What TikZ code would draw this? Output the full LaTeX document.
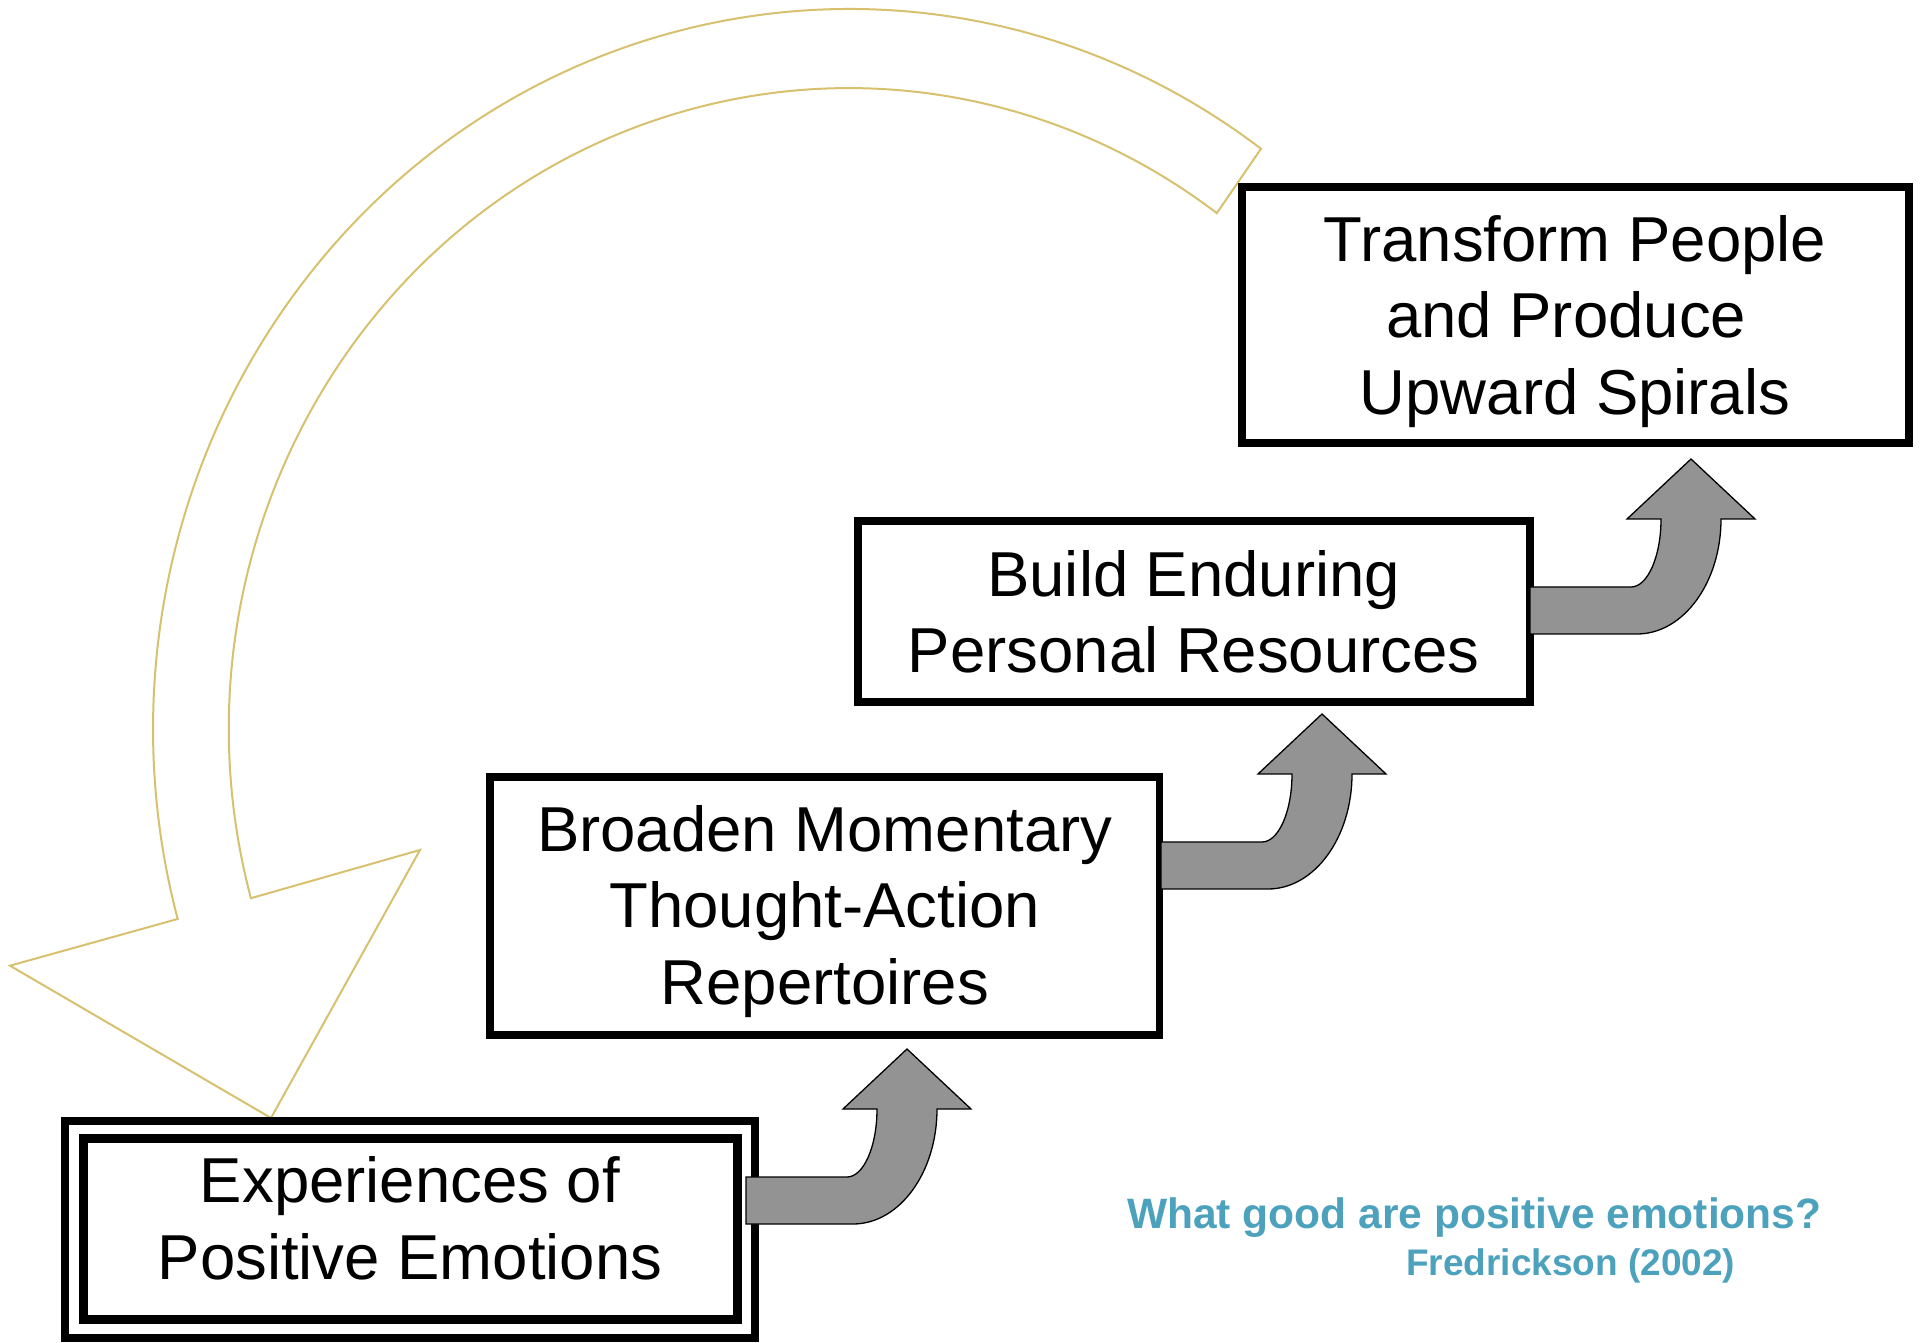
\documentclass[tikz,border=0pt]{standalone}
\usepackage{fontspec}
\setmainfont{Liberation Sans}
\definecolor{spiralgold}{RGB}{215,192,110}
\definecolor{captionteal}{RGB}{76,161,189}
\definecolor{arrowgray}{RGB}{147,147,147}
\tikzset{
  box/.style={draw=black, fill=white, line width=8pt, inner sep=0pt, rectangle},
  boxtext/.style={align=center, font=\fontsize{63.5}{76.5}\selectfont, inner sep=0pt},
  captiontext/.style={text=captionteal, anchor=base west, inner sep=0pt},
  spiral/.style={draw=spiralgold, line width=2pt, line join=miter},
  bentarrow/.style={draw=black, fill=arrowgray, line width=1.3pt, line join=miter},
  bent up/.pic={
    \draw[bentarrow] (0,0) -- (64,-60) -- (30,-60)
      arc[start angle=0, end angle=-90, x radius=84pt, y radius=115pt]
      -- (-161,-175) -- (-161,-128) -- (-60,-128)
      arc[start angle=-90, end angle=0, x radius=30pt, y radius=68pt]
      -- (-64,-60) -- cycle;
  }
}
\begin{document}
\begin{tikzpicture}[x=1pt,y=1pt]
\useasboundingbox (0,0) rectangle (1921,1342);

% big curved feedback arrow
\draw[spiral] (849,613) ++(53.7:696pt and 720pt)
  arc[start angle=53.7, end angle=195.3, x radius=696pt, y radius=720pt]
  -- (10,376.3) -- (271,224) -- (420,492) -- (250.9,443.8)
  arc[start angle=195.3, end angle=53.6, x radius=620pt, y radius=641pt]
  -- cycle;

% boxes
\node[box, line width=8.5pt, minimum width=690pt, minimum height=217pt] (eouter) at (410,112.5) {};
\node[box, line width=9pt, minimum width=654pt, minimum height=181pt] (exp) at (410,113) {};
\node[boxtext] (exptext) at ([yshift=10.9pt]exp.center) {Experiences of\\Positive Emotions};

\node[box, line width=7.5pt, minimum width=669.5pt, minimum height=258pt] (broaden) at (824.75,436) {};
\node[boxtext] (broadentext) at ([yshift=-5.2pt]broaden.center) {Broaden Momentary\\Thought-Action\\Repertoires};

\node[box, minimum width=671.5pt, minimum height=180.5pt] (build) at (1193.75,730.25) {};
\node[boxtext] (buildtext) at (build.center) {Build Enduring\\Personal Resources};

\node[box, minimum width=667pt, minimum height=256pt] (transform) at (1575,1027) {};
\node[boxtext] (transformtext) at ([yshift=-6.2pt]transform.center) {Transform People\\and Produce\rule{17.7pt}{0pt}\\Upward Spirals};

% bent block arrows
\pic (arrowA) at (907,293) {bent up};
\pic (arrowB) at (1322,628) {bent up};
\pic (arrowC) at (1691,883) {bent up};

% caption
\node[captiontext, font=\bfseries\fontsize{42.5}{50}\selectfont] (cap1) at (1127,114) {What good are positive emotions?};
\node[captiontext, font=\bfseries\fontsize{37}{44}\selectfont] (cap2) at (1406,67) {Fredrickson (2002)};
\end{tikzpicture}
\end{document}
